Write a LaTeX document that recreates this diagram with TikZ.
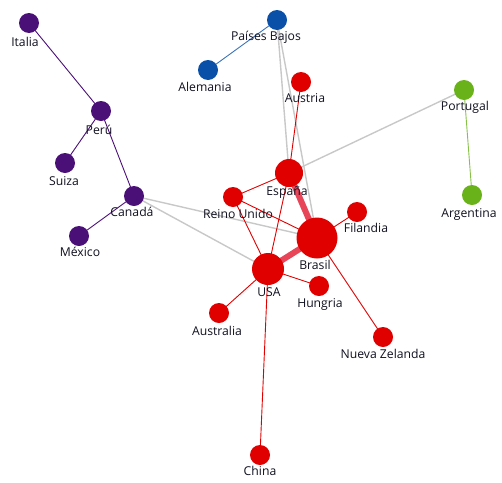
\documentclass[tikz,border=0pt]{standalone}
\usepackage{fontspec}
\setmainfont{Open Sans}
\usetikzlibrary{backgrounds}
\definecolor{cpur}{HTML}{4B0F78}
\definecolor{cblu}{HTML}{0A50A8}
\definecolor{cred}{HTML}{E00000}
\definecolor{cgrn}{HTML}{6AB21A}
\definecolor{cgry}{HTML}{C8C8C8}
\definecolor{cthk}{HTML}{E84558}
\definecolor{ctxt}{HTML}{101020}
\tikzset{
  dot/.style={circle,inner sep=0pt,minimum size=#1},
  dot/.default={20pt},
  lbl/.style={inner sep=0pt,font=\fontsize{12.2}{14}\selectfont,text=ctxt},
  thin/.style={line width=0.9pt},
  grayedge/.style={draw=cgry,line width=1.4pt},
  thickedge/.style={draw=cthk,line width=6pt}
}
\begin{document}
\begin{tikzpicture}[x=1pt,y=-1pt]
\useasboundingbox (0,0) rectangle (502,482);
% nodes
\node[dot,fill=cpur] (italia) at (29,23) {};
\node[dot,fill=cpur] (peru) at (101,111) {};
\node[dot,fill=cpur] (suiza) at (65,163) {};
\node[dot,fill=cpur] (canada) at (134,196) {};
\node[dot,fill=cpur] (mexico) at (79,236) {};
\node[dot,fill=cblu] (pbajos) at (277,20) {};
\node[dot,fill=cblu] (alemania) at (208,70) {};
\node[dot,fill=cred] (austria) at (301,82) {};
\node[dot,fill=cgrn] (portugal) at (464,90) {};
\node[dot,fill=cgrn] (argentina) at (472,195) {};
\node[dot=28pt,fill=cred] (espana) at (289,173) {};
\node[dot,fill=cred] (reino) at (233,197) {};
\node[dot,fill=cred] (filandia) at (357,212) {};
\node[dot=41pt,fill=cred] (brasil) at (317,238) {};
\node[dot=32pt,fill=cred] (usa) at (268,269) {};
\node[dot,fill=cred] (hungria) at (319,286) {};
\node[dot,fill=cred] (australia) at (219,313) {};
\node[dot,fill=cred] (nzelanda) at (383,337) {};
\node[dot,fill=cred] (china) at (260,455) {};
% edges
\begin{scope}[on background layer]
\draw[thin,draw=cpur] (italia.center) -- (peru.center);
\draw[thin,draw=cpur] (peru.center) -- (suiza.center);
\draw[thin,draw=cpur] (peru.center) -- (canada.center);
\draw[thin,draw=cpur] (canada.center) -- (mexico.center);
\draw[thin,draw=cblu!80!white] (pbajos.center) -- (alemania.center);
\draw[thin,draw=cgrn!80!white] (portugal.center) -- (argentina.center);
\draw[grayedge] (pbajos.center) -- (espana.center);
\draw[grayedge] (pbajos.center) -- (brasil.center);
\draw[grayedge] (portugal.center) -- (espana.center);
\draw[grayedge] (canada.center) -- (brasil.center);
\draw[grayedge] (canada.center) -- (usa.center);
\draw[thickedge] (espana.center) -- (brasil.center);
\draw[thickedge] (usa.center) -- (brasil.center);
\draw[thin,draw=cred] (austria.center) -- (espana.center);
\draw[thin,draw=cred] (espana.center) -- (usa.center);
\draw[thin,draw=cred] (espana.center) -- (reino.center);
\draw[thin,draw=cred] (reino.center) -- (usa.center);
\draw[thin,draw=cred] (reino.center) -- (brasil.center);
\draw[thin,draw=cred] (brasil.center) -- (filandia.center);
\draw[thin,draw=cred] (brasil.center) -- (nzelanda.center);
\draw[thin,draw=cred] (usa.center) -- (hungria.center);
\draw[thin,draw=cred] (usa.center) -- (australia.center);
\draw[thin,draw=cred] (usa.center) -- (china.center);
\end{scope}
% labels
\node[lbl] (l-italia) at (25,42) {Italia};
\node[lbl] (l-peru) at (99,130) {Perú};
\node[lbl] (l-suiza) at (64,181) {Suiza};
\node[lbl] (l-canada) at (132,212) {Canadá};
\node[lbl] (l-mexico) at (80,252) {México};
\node[lbl] (l-pbajos) at (266,37) {Países Bajos};
\node[lbl] (l-alemania) at (205,87) {Alemania};
\node[lbl] (l-austria) at (305,98) {Austria};
\node[lbl] (l-portugal) at (465,107) {Portugal};
\node[lbl] (l-argentina) at (469,214) {Argentina};
\node[lbl] (l-espana) at (287,192) {España};
\node[lbl] (l-reino) at (238,214) {Reino Unido};
\node[lbl] (l-filandia) at (366,228) {Filandia};
\node[lbl] (l-brasil) at (315,265) {Brasil};
\node[lbl] (l-usa) at (269,292) {USA};
\node[lbl] (l-hungria) at (320,304) {Hungria};
\node[lbl] (l-australia) at (217,331) {Australia};
\node[lbl] (l-nzelanda) at (383,354) {Nueva Zelanda};
\node[lbl] (l-china) at (260,471) {China};
\end{tikzpicture}
\end{document}
